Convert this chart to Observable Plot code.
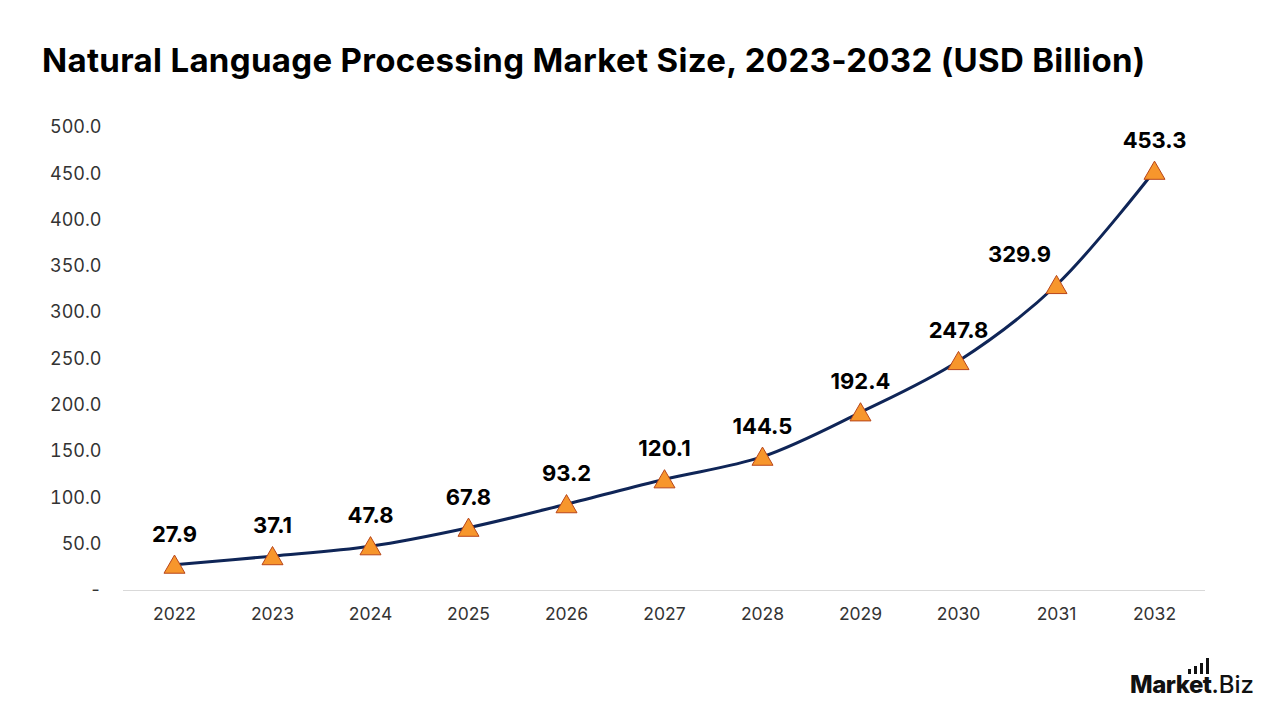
<!DOCTYPE html>
<html>
<head>
<meta charset="utf-8">
<script src="https://cdn.jsdelivr.net/npm/d3@7"></script>
<script src="https://cdn.jsdelivr.net/npm/@observablehq/plot@0.6"></script>
<style>
  html, body { margin: 0; padding: 0; background: #fff; }
  #wrap { position: relative; width: 1280px; height: 720px; overflow: hidden; font-family: Inter, "Open Sans", sans-serif; }
  #title { position: absolute; left: 42px; top: 40px; font-size: 33px; font-weight: 700; color: #000; white-space: nowrap; letter-spacing: 0.32px; }
  #chart { position: absolute; left: 0; top: 100px; }
  #logo { position: absolute; left: 1130px; top: 670px; font-size: 24px; color: #111; white-space: nowrap; }
  #logo b { font-weight: 800; letter-spacing: -0.5px; }
  #logo span.biz { font-weight: 500; }
  #bars { position: absolute; left: 58px; top: -14px; height: 18px; }
  #bars i { position: absolute; bottom: 0; width: 3px; background: #111; }
</style>
</head>
<body>
<div id="wrap">
  <div id="title">Natural Language Processing Market Size, 2023-2032 (USD Billion)</div>
  <div id="chart"></div>
  <div id="logo"><b>Market</b><span class="biz">.Biz</span>
    <div id="bars"><i style="left:0;height:5px"></i><i style="left:6px;height:8px"></i><i style="left:12px;height:11px"></i><i style="left:18px;height:16px"></i></div>
  </div>
</div>
<script>
// Market size by year, USD billion
const years = ["2022", "2023", "2024", "2025", "2026", "2027", "2028", "2029", "2030", "2031", "2032"];
const values = [27.9, 37.1, 47.8, 67.8, 93.2, 120.1, 144.5, 192.4, 247.8, 329.9, 453.3];
const yTicks = [0, 50, 100, 150, 200, 250, 300, 350, 400, 450, 500];

const data = years.map((year, i) => ({year, value: values[i]}));
// the 2031 label sits up and to the left of its marker
const labelsMain = data.filter(d => d.year !== "2031");
const labelsLeft = data.filter(d => d.year === "2031");

const fmtY = d => d === 0 ? "-" : d.toFixed(1);
const labelStyle = {x: "year", y: "value", text: d => d.value.toFixed(1), fontSize: 22, fontWeight: 700, fill: "#000"};

const chart = Plot.plot({
  width: 1280,
  height: 620,
  marginLeft: 123,
  marginRight: 75,
  marginTop: 27,
  marginBottom: 130,
  style: {fontFamily: "Inter, 'Open Sans', sans-serif", color: "#333", background: "transparent"},
  x: {type: "point", domain: years, padding: 0.5, label: null},
  y: {domain: [0, 500], label: null},
  marks: [
    Plot.ruleY([0], {stroke: "#d9d9d9", strokeWidth: 1.2}),
    Plot.axisX({tickSize: 0, tickPadding: 17, fontSize: 17.5, fill: "#333"}),
    Plot.axisY({ticks: yTicks, tickSize: 0, tickPadding: 22, fontSize: 18, fill: "#333", tickFormat: fmtY}),
    Plot.line(data, {x: "year", y: "value", stroke: "#0f2557", strokeWidth: 3, curve: "catmull-rom"}),
    // triangle markers centred on their bounding box rather than their centroid
    Plot.dot(data, {x: "year", y: "value", symbol: "triangle", r: 7.8, dy: 2.5, fill: "#f7962c", stroke: "#b8461b", strokeWidth: 1}),
    Plot.text(labelsMain, {...labelStyle, dy: -30}),
    Plot.text(labelsLeft, {...labelStyle, dy: -30, dx: -37})
  ]
});
document.getElementById("chart").appendChild(chart);
</script>
</body>
</html>
